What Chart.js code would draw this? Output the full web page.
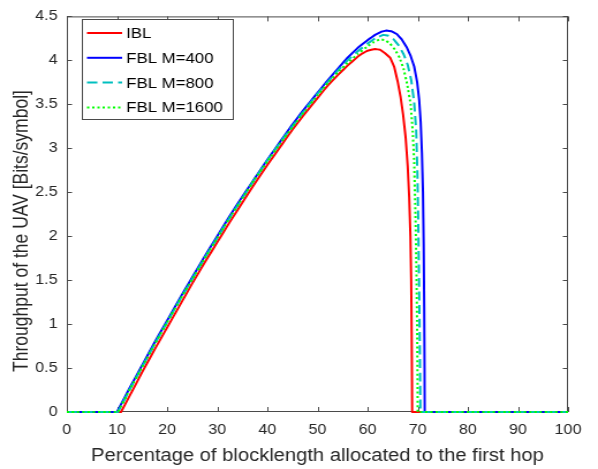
<!DOCTYPE html>
<html>
<head>
<meta charset="utf-8">
<script src="https://cdn.jsdelivr.net/npm/chart.js@4"></script>
<style>
    body { margin: 0; background: #fff; overflow: hidden; }
    /* the reference figure is stretched horizontally, so draw narrow and widen */
    canvas { display: block; transform: scaleX(1.1522); transform-origin: 0 0; }
</style>
</head>
<body>
<canvas id="chart" width="519" height="469"></canvas>
<script>
const seriesLabels = ["IBL", "FBL M=400", "FBL M=800", "FBL M=1600"];

const iblX = [0, 10.8, 12.5, 15, 17.5, 20, 22.5, 25, 27.5, 30, 32.5, 35, 37.5, 40, 42.5, 45, 47, 50, 52, 54, 56, 58, 59, 60, 61.5, 62.5, 63.5, 64.5, 65.3, 66, 66.6, 67.1, 67.6, 68, 68.3, 68.55, 68.7, 68.8, 68.87, 68.9, 100];
const iblY = [0, 0, 0.18, 0.45, 0.71, 0.96, 1.21, 1.46, 1.70, 1.93, 2.16, 2.38, 2.60, 2.81, 3.01, 3.21, 3.36, 3.57, 3.71, 3.83, 3.94, 4.04, 4.08, 4.11, 4.13, 4.12, 4.08, 4.03, 3.93, 3.76, 3.58, 3.38, 3.12, 2.8, 2.45, 2.0, 1.5, 0.9, 0.35, 0, 0];

const m400X = [0, 10.0, 12.5, 15, 17.5, 20, 22.5, 25, 27.5, 30, 32.5, 35, 37.5, 40, 42.5, 45, 47, 50, 52, 54, 56, 58, 60, 61.5, 62.7, 63.8, 64.8, 65.8, 66.8, 67.8, 68.6, 69.3, 69.9, 70.3, 70.6, 70.85, 71.05, 71.2, 71.3, 71.37, 71.4, 100];
const m400Y = [0, 0, 0.27, 0.53, 0.79, 1.04, 1.29, 1.53, 1.77, 2.0, 2.23, 2.45, 2.66, 2.87, 3.07, 3.27, 3.42, 3.63, 3.77, 3.9, 4.03, 4.14, 4.23, 4.29, 4.325, 4.34, 4.33, 4.3, 4.24, 4.15, 4.05, 3.93, 3.75, 3.55, 3.3, 2.95, 2.5, 1.9, 1.2, 0.5, 0, 0];

const m800X = [0, 10.2, 12.5, 15, 17.5, 20, 22.5, 25, 27.5, 30, 32.5, 35, 37.5, 40, 42.5, 45, 47, 50, 52, 54, 56, 58, 60, 61.5, 63.1, 64.2, 65.2, 66.2, 67.2, 68, 68.7, 69.3, 69.7, 69.95, 70.1, 70.25, 70.4, 70.5, 70.55, 100];
const m800Y = [0, 0, 0.25, 0.51, 0.77, 1.02, 1.27, 1.51, 1.75, 1.98, 2.21, 2.43, 2.65, 2.86, 3.06, 3.25, 3.4, 3.62, 3.75, 3.88, 4.0, 4.1, 4.19, 4.25, 4.29, 4.28, 4.24, 4.17, 4.07, 3.95, 3.78, 3.52, 3.2, 2.7, 2.2, 1.6, 0.9, 0.3, 0, 0];

const m1600X = [0, 10.2, 12.5, 15, 17.5, 20, 22.5, 25, 27.5, 30, 32.5, 35, 37.5, 40, 42.5, 45, 47, 50, 52, 54, 56, 58, 60, 61.3, 62.5, 63.5, 64.5, 65.5, 66.4, 67.2, 67.9, 68.6, 69, 69.3, 69.55, 69.75, 69.9, 69.98, 70.0, 100];
const m1600Y = [0, 0, 0.25, 0.51, 0.77, 1.02, 1.27, 1.51, 1.75, 1.98, 2.21, 2.43, 2.65, 2.85, 3.05, 3.24, 3.39, 3.6, 3.74, 3.86, 3.97, 4.07, 4.16, 4.21, 4.24, 4.23, 4.19, 4.12, 4.03, 3.9, 3.73, 3.5, 3.2, 2.85, 2.25, 1.6, 0.9, 0.3, 0, 0];

const xTitle = "Percentage of blocklength allocated to the first hop";
const yTitle = "Throughput of the UAV [Bits/symbol]";

const axisColor = "#262626";
const frameColor = "#4a4a4a";
const fontFamily = "Liberation Sans, Arial, sans-serif";

function toPoints(xs, ys) {
    return xs.map((x, i) => ({x: x, y: ys[i]}));
}

// matlab style box with ticks pointing inward, drawn under the lines
const framePlugin = {
    id: "frame",
    beforeDatasetsDraw(chart) {
        const {ctx, chartArea: a, scales} = chart;
        ctx.save();
        ctx.strokeStyle = frameColor;
        ctx.lineWidth = 1;
        ctx.strokeRect(a.left + 0.5, a.top + 0.5, a.right - a.left - 1, a.bottom - a.top - 1);
        ctx.beginPath();
        scales.x.ticks.forEach(t => {
            const px = Math.round(scales.x.getPixelForValue(t.value)) + 0.5;
            ctx.moveTo(px, a.bottom); ctx.lineTo(px, a.bottom - 5);
            ctx.moveTo(px, a.top); ctx.lineTo(px, a.top + 5);
        });
        scales.y.ticks.forEach(t => {
            const py = Math.round(scales.y.getPixelForValue(t.value)) + 0.5;
            ctx.moveTo(a.left, py); ctx.lineTo(a.left + 4.5, py);
            ctx.moveTo(a.right, py); ctx.lineTo(a.right - 4.5, py);
        });
        ctx.stroke();

        // y label sits a little below the middle of the axis in the original
        ctx.translate(19, 231);
        ctx.rotate(-Math.PI / 2);
        ctx.font = "17.5px " + fontFamily;
        ctx.fillStyle = axisColor;
        ctx.textAlign = "center";
        ctx.textBaseline = "middle";
        ctx.fillText(yTitle, 0, 0);
        ctx.restore();
    },
    afterDraw(chart) {
        const ctx = chart.ctx;
        const boxX = 71, boxY = 19, boxW = 131, boxH = 100;
        ctx.save();
        ctx.fillStyle = "#fff";
        ctx.fillRect(boxX, boxY, boxW, boxH);
        ctx.strokeStyle = frameColor;
        ctx.lineWidth = 1;
        ctx.strokeRect(boxX + 0.5, boxY + 0.5, boxW, boxH);
        ctx.font = "14.6px " + fontFamily;
        ctx.textBaseline = "middle";
        chart.data.datasets.forEach((ds, i) => {
            const y = boxY + 14 + i * 24.8;
            ctx.strokeStyle = ds.borderColor;
            ctx.lineWidth = ds.borderWidth;
            ctx.setLineDash(ds.borderDash || []);
            ctx.beginPath();
            ctx.moveTo(boxX + 4.5, y);
            ctx.lineTo(boxX + 35, y);
            ctx.stroke();
            ctx.setLineDash([]);
            ctx.fillStyle = "#000";
            ctx.fillText(ds.label, boxX + 38.5, y + 1);
        });
        ctx.restore();
    }
};

function init() {
    const ctx = document.querySelector("#chart").getContext("2d");
    new Chart(ctx, {
        type: "line",
        data: {
            datasets: [
                {label: seriesLabels[0], data: toPoints(iblX, iblY), borderColor: "#ff0000", borderWidth: 2, order: 4},
                {label: seriesLabels[1], data: toPoints(m400X, m400Y), borderColor: "#0000ff", borderWidth: 2, order: 3},
                {label: seriesLabels[2], data: toPoints(m800X, m800Y), borderColor: "#00bfbf", borderWidth: 2, borderDash: [9, 4.5], order: 2},
                {label: seriesLabels[3], data: toPoints(m1600X, m1600Y), borderColor: "#00ff00", borderWidth: 2, borderDash: [2, 2.5], order: 1}
            ]
        },
        options: {
            responsive: false,
            animation: false,
            events: [],
            layout: {padding: {top: 12, right: 26, left: 0, bottom: 0}},
            elements: {
                point: {radius: 0},
                // tiny tension keeps chart.js off its pixel-column fast path on the steep drop
                line: {tension: 0.001, fill: false, borderJoinStyle: "round"}
            },
            datasets: {line: {clip: 3}},
            plugins: {
                legend: {display: false},
                tooltip: {enabled: false}
            },
            scales: {
                x: {
                    type: "linear",
                    min: 0,
                    max: 100,
                    grid: {display: false, drawTicks: false},
                    border: {display: false},
                    ticks: {stepSize: 10, padding: 10, color: axisColor, maxRotation: 0, font: {family: fontFamily, size: 14}},
                    title: {display: true, text: xTitle, color: axisColor, padding: {top: 0, bottom: 2}, font: {family: fontFamily, size: 17.5}},
                    afterFit(scale) { scale.height = 57; }
                },
                y: {
                    type: "linear",
                    min: 0,
                    max: 4.5,
                    grid: {display: false, drawTicks: false},
                    border: {display: false},
                    ticks: {
                        stepSize: 0.5,
                        padding: 8,
                        color: axisColor,
                        font: {family: fontFamily, size: 14},
                        callback: value => String(Math.round(value * 10) / 10)
                    },
                    title: {display: false},
                    afterFit(scale) { scale.width = 58; }
                }
            }
        },
        plugins: [framePlugin]
    });
}

init();
</script>
</body>
</html>
